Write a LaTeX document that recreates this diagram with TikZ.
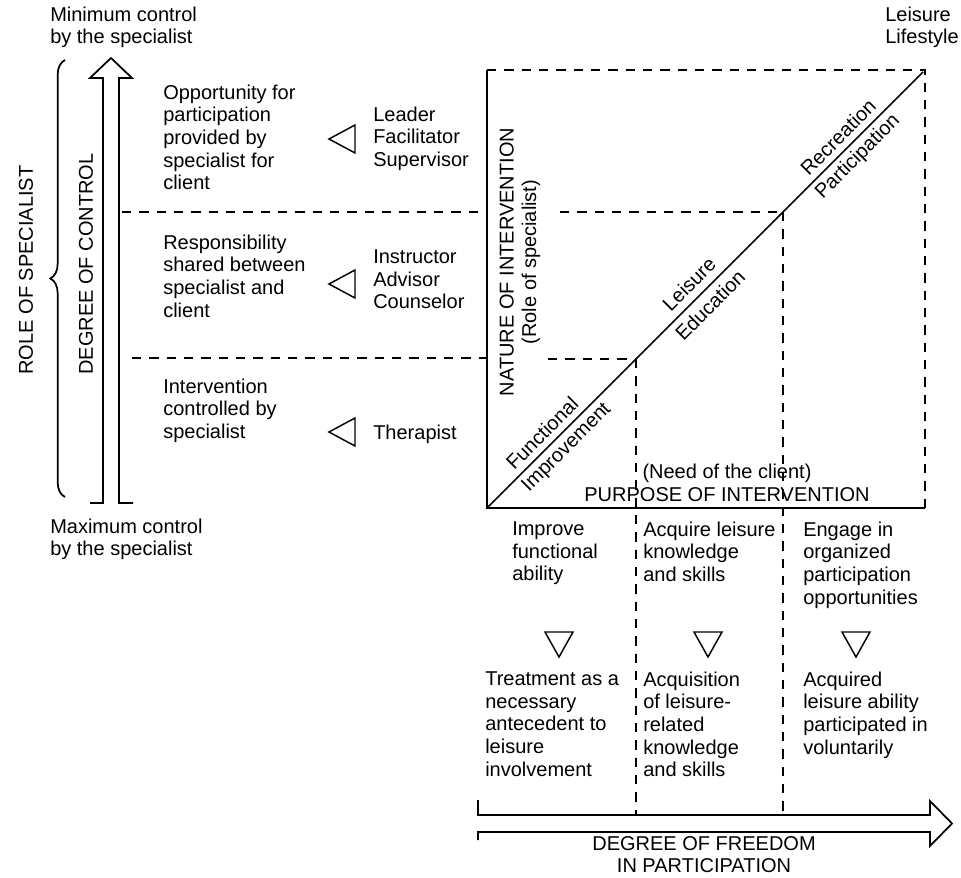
\documentclass[tikz,border=0pt]{standalone}
\usepackage{fontspec}
\setmainfont{Liberation Sans}
\usetikzlibrary{decorations.pathreplacing}
\begin{document}
\begin{tikzpicture}[x=0.75pt,y=-0.75pt,
  every node/.style={font=\fontsize{15}{17}\selectfont, inner sep=0pt},
  txt/.style={align=left, anchor=north west},
  ctr/.style={align=center, anchor=center},
  solidline/.style={line width=1.3pt},
  dashline/.style={line width=1.3pt, dash pattern=on 7pt off 6pt},
  tri/.style={line width=1.1pt, line join=miter}]
\useasboundingbox (0,0) rectangle (961,878);

% ---------- left side ----------
\node[txt] (minc) at (50,6.5) {Minimum control\\by the specialist};
\node[txt] (maxc) at (50,518.5) {Maximum control\\by the specialist};

% brace
\draw[solidline, decorate, decoration={brace, amplitude=11pt}] (65,497) -- (65,60);
\node[ctr, rotate=90] (role) at (26,270) {ROLE OF SPECIALIST};

% degree of control arrow
\draw[solidline, line join=miter] (90,503) -- (103,503) -- (103,78) -- (90,78) -- (111,58)
  -- (132,78) -- (119,78) -- (119,503) -- (133,503);
\node[ctr, rotate=90] (degree) at (86,264) {DEGREE OF CONTROL};

% column texts
\node[txt] (opp) at (163,84.5) {Opportunity for\\participation\\provided by\\specialist for\\client};
\node[txt] (resp) at (163,234.5) {Responsibility\\shared between\\specialist and\\client};
\node[txt] (interv) at (163,378.5) {Intervention\\controlled by\\specialist};

\node[txt] (leader) at (373,106.5) {Leader\\Facilitator\\Supervisor};
\node[txt] (instr) at (373,249.5) {Instructor\\Advisor\\Counselor};
\node[txt] (ther) at (373,424.5) {Therapist};

% left-pointing triangles
\foreach \yy in {139,284,432}{
  \draw[tri] (355,\yy-14) -- (329,\yy) -- (355,\yy+14) -- cycle;
}

% ---------- square ----------
\coordinate (sqTL) at (487,70);
\coordinate (sqBL) at (487,508);
\coordinate (sqBR) at (925,508);
\coordinate (sqTR) at (925,70);
\coordinate (dTR) at (923,72);
\coordinate (pU) at (783,212);
\coordinate (pL) at (636,359);

\draw[dashline] (sqTL) -- (sqTR) -- (sqBR);
\draw[solidline] (sqTL) -- (sqBL) -- (sqBR);
\draw[solidline] (sqBL) -- (dTR);

% horizontal dashed lines
\draw[dashline] (122,212) -- (487,212);
\draw[dashline] (560,212) -- (pU);
\draw[dashline] (132,358) -- (487,358);
\draw[dashline] (548,359) -- (pL);

% vertical dashed lines
\coordinate (vU) at (783,815);
\coordinate (vL) at (636,815);
\draw[dashline] (pU) -- (vU);
\draw[dashline] (pL) -- (vL);

\node[ctr, rotate=90] (nature) at (520,262) {NATURE OF INTERVENTION\\(Role of specialist)};

\node[txt] (lifestyle) at (885,6.5) {Leisure\\Lifestyle};

% diagonal labels
\node[rotate=45] (func) at (542,433) {Functional};
\node[rotate=45] (impr) at (567,448) {Improvement};
\node[rotate=45] (leis) at (689,284) {Leisure};
\node[rotate=45] (educ) at (710,305) {Education};
\node[rotate=45] (recr) at (838,137) {Recreation};
\node[rotate=45] (part) at (858,157) {Participation};

\node[ctr] (need) at (727,473) {(Need of the client)};
\node[ctr] (purpose) at (727,495) {PURPOSE OF INTERVENTION};

% ---------- bottom ----------
\node[txt] (improve) at (512,521.5) {Improve\\functional\\ability};
\node[txt] (acquire) at (643,521.5) {Acquire leisure\\knowledge\\and skills};
\node[txt] (engage) at (803,521.5) {Engage in\\organized\\participation\\opportunities};

\foreach \xx in {559,708,856}{
  \draw[tri] (\xx-14,632) -- (\xx+14,632) -- (\xx,657) -- cycle;
}

\node[txt] (treat) at (485,671.5) {Treatment as a\\necessary\\antecedent to\\leisure\\involvement};
\node[txt] (acquis) at (643,671.5) {Acquisition\\of leisure-\\related\\knowledge\\and skills};
\node[txt] (acqd) at (803,671.5) {Acquired\\leisure ability\\participated in\\voluntarily};

% freedom arrow
\draw[solidline, line join=miter] (478,800) -- (478,815) -- (930,815) -- (930,801) -- (952,823.5)
  -- (930,846) -- (930,832) -- (478,832) -- (478,840);
\node[ctr] (freedom) at (704,854.5) {DEGREE OF FREEDOM\\IN PARTICIPATION};

\end{tikzpicture}
\end{document}
